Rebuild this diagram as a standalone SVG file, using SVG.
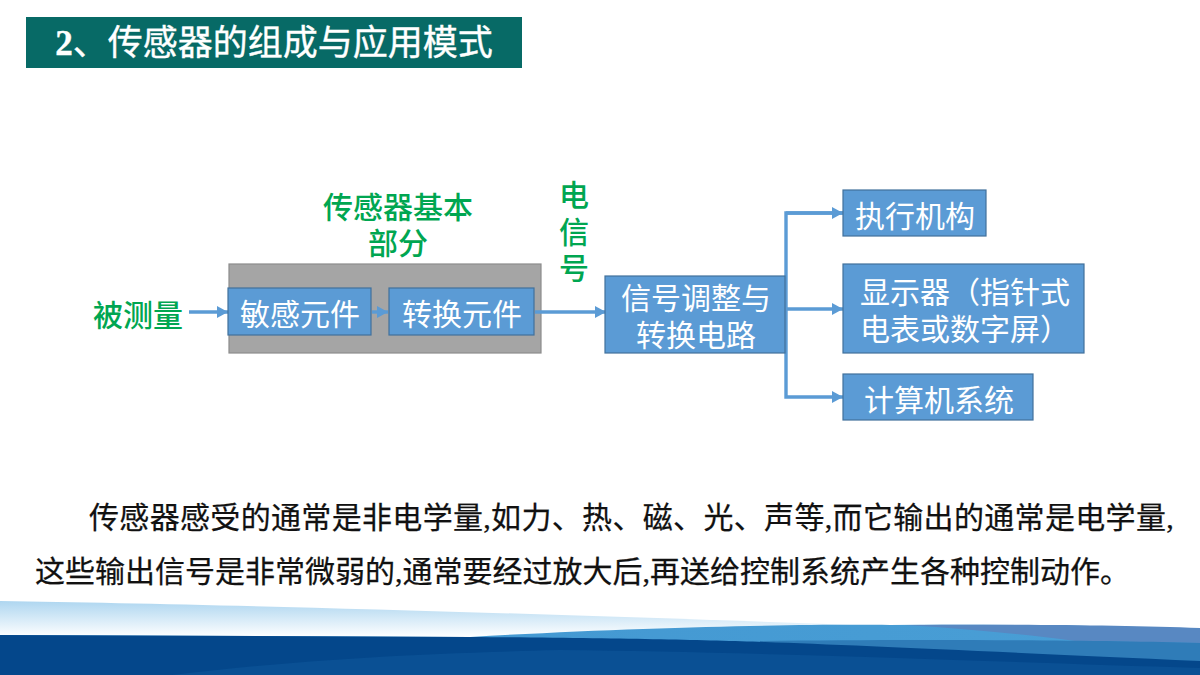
<svg xmlns="http://www.w3.org/2000/svg" width="1200" height="675" viewBox="0 0 1200 675">
<style>
.box{fill:#5b9bd5;stroke:#41719c;stroke-width:1.2}
.w{fill:#fff;font-family:"Noto Sans CJK SC","Liberation Sans",sans-serif;font-size:30px;text-anchor:middle}
.g{fill:#00a651;font-family:"Noto Sans CJK SC","Liberation Sans",sans-serif;font-size:30px;font-weight:500;text-anchor:middle}
.b{fill:#111;font-family:"Liberation Serif","Noto Sans CJK SC",sans-serif;font-size:30px;stroke:#111;stroke-width:.25}
.c{fill:none;stroke:#5b9bd5;stroke-width:3.4}
</style>
<defs>
<marker id="ah" markerUnits="userSpaceOnUse" markerWidth="12" markerHeight="12" refX="11" refY="6" orient="auto"><path d="M0 0L11 6L0 12z" fill="#5b9bd5"/></marker>
<linearGradient id="lb" x1="0" y1="0" x2="0" y2="1"><stop offset="0" stop-color="#aed6f0"/><stop offset="1" stop-color="#fff"/></linearGradient>
<linearGradient id="mb" x1="0" y1="0" x2="1" y2="0"><stop offset="0" stop-color="#3f94cf"/><stop offset="1" stop-color="#4a9fd6"/></linearGradient>
</defs>
<g id="footer">
<path d="M0 601C200 604 500 612 850 625L470 637L0 635z" fill="url(#lb)"/>
<path d="M470 637C640 627 800 624 890 625C1000 624 1120 626 1200 629V675H0V635z" fill="url(#mb)"/>
<path d="M905 625C1000 624 1120 625 1200 628V643L1075 641C1020 634 960 628 905 625z" fill="#5888c2"/>
<path d="M760 641C900 639 1100 640 1200 643V668H760z" fill="#2f7cb8"/>
<path d="M0 635L470 637C620 638 700 640 765 642C850 645 1000 652 1200 661V675H0z" fill="#04478b"/>
<path d="M172 675C300 660 400 654 560 650C760 652 1000 662 1200 668V675z" fill="#0a5094"/>
</g>
<g id="title"><rect x="26" y="17" width="496" height="51" fill="#076a66"/>
<text x="274" y="55" text-anchor="middle" fill="#fff" font-size="35" font-family="Liberation Serif,Noto Sans CJK SC,sans-serif" stroke="#fff" stroke-width=".4"><tspan font-weight="700">2</tspan>、传感器的组成与应用模式</text></g>
<g id="base"><rect x="229" y="264" width="312" height="89" fill="#a5a5a5" stroke="#8c8c8c" stroke-width="1.2"/></g>
<g id="connectors">
<path class="c" d="M189 312H228" marker-end="url(#ah)"/>
<path class="c" d="M372 312H388" marker-end="url(#ah)"/>
<path class="c" d="M535 312H606" marker-end="url(#ah)"/>
<path class="c" d="M785 309H843" marker-end="url(#ah)"/>
<path class="c" d="M843 213H786V397H843" marker-end="url(#ah)"/>
<path class="c" d="M786 213H843" marker-end="url(#ah)"/>
</g>
<g id="label-measured"><text class="g" x="138" y="326">被测量</text></g>
<g id="n1"><rect class="box" x="228" y="288" width="143" height="47"/><text class="w" x="300" y="325">敏感元件</text></g>
<g id="n2"><rect class="box" x="389" y="288" width="145" height="47"/><text class="w" x="462" y="325">转换元件</text></g>
<g id="label-base"><text class="g" x="398" y="218"><tspan x="398">传感器基本</tspan><tspan x="398" dy="36">部分</tspan></text></g>
<g id="label-signal"><text class="g" x="574" y="206"><tspan x="574">电</tspan><tspan x="574" dy="37">信</tspan><tspan x="574" dy="36">号</tspan></text></g>
<g id="n3"><rect class="box" x="605" y="276" width="180" height="77"/><text class="w" x="696" y="309"><tspan x="696">信号调整与</tspan><tspan x="696" dy="37">转换电路</tspan></text></g>
<g id="n4"><rect class="box" x="843" y="190" width="143" height="46"/><text class="w" x="915" y="227">执行机构</text></g>
<g id="n5"><rect class="box" x="843" y="264" width="241" height="89"/><text class="w" y="303" style="text-anchor:start"><tspan x="860">显示器（指针式</tspan><tspan x="860" dy="37">电表或数字屏）</tspan></text></g>
<g id="n6"><rect class="box" x="843" y="374" width="190" height="46"/><text class="w" x="939" y="411">计算机系统</text></g>
<g id="body">
<text class="b" x="89" y="528" letter-spacing=".33">传感器感受的通常是非电学量,如力、热、磁、光、声等,而它输出的通常是电学量,</text>
<text class="b" x="35" y="582">这些输出信号是非常微弱的,通常要经过放大后,再送给控制系统产生各种控制动作。</text>
</g>
</svg>
